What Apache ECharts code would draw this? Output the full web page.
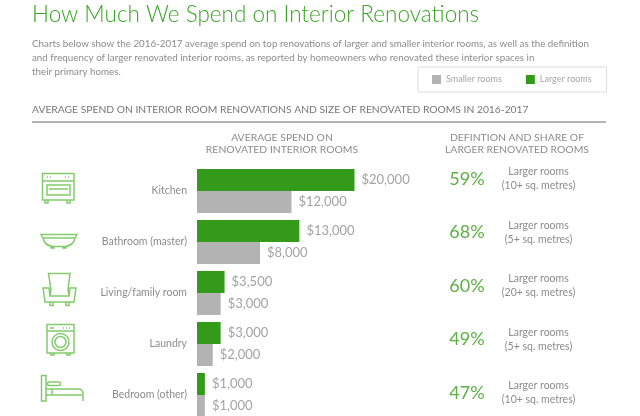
<!DOCTYPE html>
<html>
<head>
<meta charset="utf-8">
<style>
  html, body { margin: 0; padding: 0; background: #fff; }
  #chart { width: 640px; height: 416px; }
</style>
<script src="https://cdn.jsdelivr.net/npm/echarts@6/dist/echarts.min.js"></script>
</head>
<body>
<div id="chart"></div>
<script>
const rooms = ["Kitchen", "Bathroom (master)", "Living/family room", "Laundry", "Bedroom (other)"];
const largerSpend = [20000, 13000, 3500, 3000, 1000];
const smallerSpend = [12000, 8000, 3000, 2000, 1000];
const largerShare = ["59%", "68%", "60%", "49%", "47%"];
const roomDefinition = ["10+", "5+", "20+", "5+", "10+"];
const introLines = [
  "Charts below show the 2016-2017 average spend on top renovations of larger and smaller interior rooms, as well as the definition",
  "and frequency of larger renovated interior rooms, as reported by homeowners who renovated these interior spaces in",
  "their primary homes."
];

const FONT = "Lato, 'Open Sans', sans-serif";
const GREEN = "#339a1a";
const GREY = "#b3b3b3";
const TEXT = "#8c8c8c";
const ICON = "#83cb6c";

function label(x, y, text, size, extra) {
  return {
    type: "text", x: x, y: y, silent: true,
    style: Object.assign({ text: text, fontFamily: FONT, fontSize: size, fill: TEXT, verticalAlign: "middle" }, extra)
  };
}

// outline icons, drawn in page pixels
const iconPaths = [
  // oven
  "M42.5 173.5H74V200H42.5ZM42.5 181H74M47 185H70V195H47ZM49 189H68M47 177H48M50 177H51M65 177H66M68 177H69M45 200V203H48V200M67 200V203H70V200",
  // bathtub
  "M41 234.5H77L75 238H43ZM43 238C44 243 48 246 53 246.5H65C70 246 74 243 75 238M51 246.5V248H54V246.5M63 246.5V248H66V246.5",
  // armchair
  "M48.5 273.5H70L68 290L69 296H50L51 290ZM43 288H49L50 296H69L70 288H76L74 302H45ZM50 302V305.5H53V302M66 302V305.5H69V302",
  // washing machine
  "M47 324.5H74V353H47ZM47 331H74M50 328H54M63 328H64M66 328H67M69 328H70M51 353V355H54V353M67 353V355H70V353M69 342A8.5 8.5 0 1 1 52 342A8.5 8.5 0 1 1 69 342M66 342A5.5 5.5 0 1 1 55 342A5.5 5.5 0 1 1 66 342",
  // bed
  "M41.5 375.5H46V401H41.5ZM46 389H79C81 389 83 391 83 393V401M46 395H82M52 389V395M49 382H59C61 382 61 385.5 59 385.5H49C47 385.5 47 382 49 382Z"
];

const chart = echarts.init(document.getElementById("chart"));

const roomAxis = {
  type: "category",
  data: rooms,
  inverse: true,
  axisLine: { show: false },
  axisTick: { show: false }
};

const spendLabel = {
  show: true, position: "right", distance: 7, color: "#a3a3a3", fontSize: 13,
  formatter: p => "$" + p.value.toLocaleString("en-US")
};

chart.setOption({
  animation: false,
  textStyle: { fontFamily: FONT },
  title: {
    text: "How Much We Spend on Interior Renovations",
    left: 27, top: -2,
    textStyle: { color: "#3aa526", fontSize: 22.5, fontWeight: 300, fontFamily: FONT }
  },
  legend: {
    data: ["Smaller rooms", "Larger rooms"],
    left: 418, top: 67,
    padding: [8, 15, 8, 14],
    itemWidth: 9, itemHeight: 9, itemGap: 24,
    icon: "rect",
    borderColor: "#dcdcdc", borderWidth: 1,
    textStyle: { color: "#a6a6a6", fontSize: 9, fontFamily: FONT }
  },
  // the bars and the right-hand columns run on different row spacings
  grid: [
    { left: 197, top: 165.5, width: 157.5, height: 255, outerBoundsMode: "none" },
    { left: 197, top: 152.25, width: 157.5, height: 267.5, outerBoundsMode: "none" }
  ],
  xAxis: [
    { type: "value", min: 0, max: 20000, show: false, gridIndex: 0 },
    { type: "value", min: 0, max: 20000, show: false, gridIndex: 1 }
  ],
  yAxis: [
    Object.assign({}, roomAxis, {
      gridIndex: 0,
      position: "left",
      axisLabel: { color: TEXT, fontSize: 10.5, margin: 10 }
    }),
    Object.assign({}, roomAxis, {
      gridIndex: 1,
      position: "right",
      axisLabel: { color: "#5cb145", fontSize: 18, align: "center", margin: 112.5, formatter: (v, i) => largerShare[i] }
    }),
    Object.assign({}, roomAxis, {
      gridIndex: 1,
      position: "right",
      offset: 0,
      axisLabel: {
        color: TEXT, fontSize: 10.5, lineHeight: 14, align: "center", margin: 184,
        formatter: (v, i) => "Larger rooms\n(" + roomDefinition[i] + " sq. metres)"
      }
    })
  ],
  series: [
    {
      name: "Larger rooms", type: "bar", data: largerSpend, barWidth: 22, barGap: 0,
      itemStyle: { color: GREEN }, label: spendLabel
    },
    {
      name: "Smaller rooms", type: "bar", data: smallerSpend, barWidth: 22,
      itemStyle: { color: GREY }, label: spendLabel
    },
    {
      type: "custom", coordinateSystem: "none", silent: true, data: [0],
      renderItem: () => ({
        type: "group",
        children: iconPaths.map(d => ({
          type: "path",
          shape: { pathData: d },
          style: { fill: "none", stroke: ICON, lineWidth: 1.5 }
        }))
      })
    }
  ],
  graphic: [
    label(32, 44, introLines[0], 9.8),
    label(32, 58, introLines[1], 9.8),
    label(32, 72, introLines[2], 9.8),
    label(32, 110, "AVERAGE SPEND ON INTERIOR ROOM RENOVATIONS AND SIZE OF RENOVATED ROOMS IN 2016-2017", 10.3, { fill: "#777" }),
    { type: "line", silent: true, shape: { x1: 32, y1: 122, x2: 606, y2: 122 }, style: { stroke: "#9a9a9a", lineWidth: 1.5 } },
    label(282, 138, "AVERAGE SPEND ON", 10.4, { align: "center" }),
    label(282, 150, "RENOVATED INTERIOR ROOMS", 10.4, { align: "center" }),
    label(517, 138, "DEFINTION AND SHARE OF", 10.4, { align: "center" }),
    label(517, 150, "LARGER RENOVATED ROOMS", 10.4, { align: "center" })
  ]
});
</script>
</body>
</html>
